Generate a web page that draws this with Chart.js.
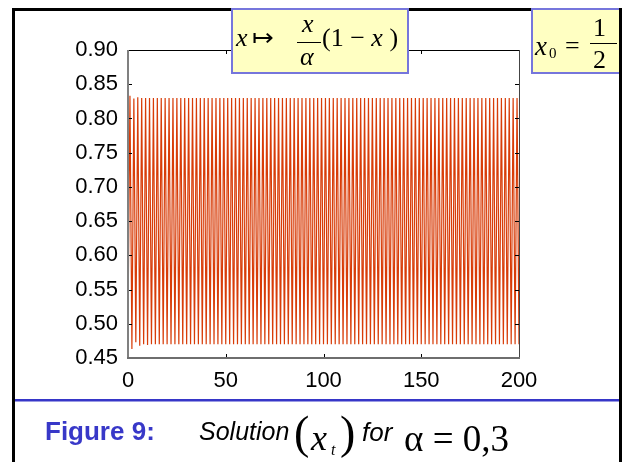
<!DOCTYPE html>
<html>
<head>
<meta charset="utf-8">
<script src="https://cdn.jsdelivr.net/npm/chart.js@4.4.1/dist/chart.umd.min.js"></script>
<style>
body{margin:0;background:#fff;}
#wrap{position:relative;width:626px;height:462px;overflow:hidden;background:#fff;}
#chart{position:absolute;left:0;top:0;}
.abs{position:absolute;white-space:nowrap;line-height:1;}
.serif{font-family:"Liberation Serif","Times New Roman",serif;}
.sans{font-family:"Liberation Sans",Arial,sans-serif;}
.frame{position:absolute;left:12px;top:8px;width:610px;height:520px;border:3px solid #000;box-sizing:border-box;}
.box{position:absolute;background:#ffffc2;border:2px solid #7676dc;box-sizing:border-box;}
</style>
</head>
<body>
<div id="wrap">
  <canvas id="chart" width="626" height="462"></canvas>
  <div class="frame"></div>
  <div class="abs" style="left:15px;top:399px;width:604px;height:2px;background:#3636c8;"></div>
  <div class="abs" style="left:15px;top:401px;width:604px;height:1px;background:#9a9ae4;"></div>

  <div class="box" style="left:231px;top:8px;width:178px;height:66px;"></div>
  <div class="abs serif" style="left:236px;top:25px;font-size:26px;font-style:italic;">x</div>
  <div class="abs serif" style="left:252px;top:25px;font-size:26px;">&#8614;</div>
  <div class="abs serif" style="left:302px;top:11px;font-size:26px;font-style:italic;">x</div>
  <div class="abs" style="left:297px;top:42px;width:24px;height:1px;background:#000;"></div>
  <div class="abs serif" style="left:300px;top:44px;font-size:26px;font-style:italic;">&alpha;</div>
  <div class="abs serif" style="left:322px;top:25px;font-size:26px;">(1 &minus; <i>x</i> )</div>

  <div class="box" style="left:531px;top:8px;width:90px;height:66px;"></div>
  <div class="abs serif" style="left:535px;top:33px;font-size:27px;font-style:italic;">x</div>
  <div class="abs serif" style="left:549px;top:46px;font-size:15px;">0</div>
  <div class="abs serif" style="left:565px;top:33px;font-size:26px;">=</div>
  <div class="abs serif" style="left:593px;top:15px;font-size:26px;">1</div>
  <div class="abs" style="left:590px;top:43px;width:27px;height:1px;background:#000;"></div>
  <div class="abs serif" style="left:593px;top:47px;font-size:26px;">2</div>
  <div class="abs" style="left:619px;top:8px;width:3px;height:454px;background:#000;"></div>

  <div class="abs sans" style="left:45px;top:418px;font-size:26px;font-weight:bold;color:#3838c8;">Figure 9:</div>
  <div class="abs sans" style="left:199px;top:419px;font-size:25px;font-style:italic;">Solution</div>
  <div class="abs serif" style="left:294px;top:410px;font-size:46px;">(</div>
  <div class="abs serif" style="left:311px;top:420px;font-size:36px;font-style:italic;">x</div>
  <div class="abs serif" style="left:331px;top:442px;font-size:16px;font-style:italic;">t</div>
  <div class="abs serif" style="left:340px;top:410px;font-size:46px;">)</div>
  <div class="abs sans" style="left:362px;top:419px;font-size:26px;font-style:italic;">for</div>
  <div class="abs serif" style="left:404px;top:420px;font-size:37px;">&alpha; = 0,3</div>
</div>
<script>
// x_t, t = 0..200
var xVals = [
    0.500, 0.833, 0.463, 0.829, 0.473, 0.831, 0.468, 0.830, 0.470, 0.830,
    0.469, 0.830, 0.470, 0.830, 0.470,
    0.830, 0.470, 0.830, 0.470, 0.830, 0.470, 0.830, 0.470, 0.830, 0.470, 0.830, 0.470, 0.830, 0.470, 0.830, 0.470, 0.830, 0.470, 0.830, 0.470,
    0.830, 0.470, 0.830, 0.470, 0.830, 0.470, 0.830, 0.470, 0.830, 0.470, 0.830, 0.470, 0.830, 0.470, 0.830, 0.470, 0.830, 0.470, 0.830, 0.470,
    0.830, 0.470, 0.830, 0.470, 0.830, 0.470, 0.830, 0.470, 0.830, 0.470, 0.830, 0.470, 0.830, 0.470, 0.830, 0.470, 0.830, 0.470, 0.830, 0.470,
    0.830, 0.470, 0.830, 0.470, 0.830, 0.470, 0.830, 0.470, 0.830, 0.470, 0.830, 0.470, 0.830, 0.470, 0.830, 0.470, 0.830, 0.470, 0.830, 0.470,
    0.830, 0.470, 0.830, 0.470, 0.830, 0.470, 0.830, 0.470, 0.830, 0.470, 0.830, 0.470, 0.830, 0.470, 0.830, 0.470, 0.830, 0.470, 0.830, 0.470,
    0.830, 0.470, 0.830, 0.470, 0.830, 0.470, 0.830, 0.470, 0.830, 0.470, 0.830, 0.470, 0.830, 0.470, 0.830, 0.470, 0.830, 0.470, 0.830, 0.470,
    0.830, 0.470, 0.830, 0.470, 0.830, 0.470, 0.830, 0.470, 0.830, 0.470, 0.830, 0.470, 0.830, 0.470, 0.830, 0.470, 0.830, 0.470, 0.830, 0.470,
    0.830, 0.470, 0.830, 0.470, 0.830, 0.470, 0.830, 0.470, 0.830, 0.470, 0.830, 0.470, 0.830, 0.470, 0.830, 0.470, 0.830, 0.470, 0.830, 0.470,
    0.830, 0.470, 0.830, 0.470, 0.830, 0.470, 0.830, 0.470, 0.830, 0.470, 0.830, 0.470, 0.830, 0.470, 0.830, 0.470, 0.830, 0.470, 0.830, 0.470,
    0.830, 0.470, 0.830, 0.470, 0.830, 0.470
];
var xTicks = [0, 50, 100, 150, 200];
var yTicks = [0.45, 0.50, 0.55, 0.60, 0.65, 0.70, 0.75, 0.80, 0.85, 0.90];

var points = xVals.map(function (v, t) { return {x: t, y: v}; });

// plot box + inward ticks on all four sides
var boxPlugin = {
    id: 'box',
    afterDraw: function (chart) {
        var c = chart.ctx, a = chart.chartArea;
        var sx = chart.scales.x, sy = chart.scales.y;
        c.save();
        c.lineWidth = 1;
        c.strokeStyle = '#000';
        xTicks.forEach(function (v) {
            var px = Math.round(sx.getPixelForValue(v)) + 0.5;
            c.beginPath(); c.moveTo(px, a.top); c.lineTo(px, a.top + 4); c.stroke();
            c.beginPath(); c.moveTo(px, a.bottom); c.lineTo(px, a.bottom - 4); c.stroke();
        });
        yTicks.forEach(function (v) {
            var py = Math.round(sy.getPixelForValue(v)) + 0.5;
            c.beginPath(); c.moveTo(a.left, py); c.lineTo(a.left + 4, py); c.stroke();
            c.beginPath(); c.moveTo(a.right, py); c.lineTo(a.right - 4, py); c.stroke();
        });
        c.strokeStyle = '#000';
        c.beginPath(); c.moveTo(a.left, a.top + 0.5); c.lineTo(a.right, a.top + 0.5); c.stroke();
        c.strokeStyle = '#444';
        c.beginPath(); c.moveTo(a.right + 0.5, a.top); c.lineTo(a.right + 0.5, a.bottom); c.stroke();
        c.lineWidth = 2;
        c.strokeStyle = '#808080';
        c.beginPath(); c.moveTo(a.left, a.top); c.lineTo(a.left, a.bottom + 1); c.stroke();
        c.strokeStyle = '#6e6e6e';
        c.beginPath(); c.moveTo(a.left - 1, a.bottom); c.lineTo(a.right + 1, a.bottom); c.stroke();
        c.restore();
    }
};

var tickFont = {family: '"Liberation Sans", Arial, sans-serif', size: 22};

new Chart(document.getElementById('chart'), {
    type: 'line',
    data: {
        datasets: [{
            data: points,
            borderColor: '#d83c08',
            borderWidth: 1.2,
            pointRadius: 0,
            tension: 0,
            fill: false
        }]
    },
    options: {
        responsive: false,
        animation: false,
        devicePixelRatio: 1,
        layout: {padding: {left: 58, right: 107, top: 50, bottom: 64}},
        plugins: {legend: {display: false}, tooltip: {enabled: false}},
        scales: {
            x: {
                type: 'linear',
                min: 0, max: 200,
                afterBuildTicks: function (s) { s.ticks = xTicks.map(function (v) { return {value: v}; }); },
                afterFit: function (s) { s.height = 40; },
                grid: {display: false, drawTicks: false},
                border: {display: false},
                ticks: {font: tickFont, color: '#000', padding: 10, maxRotation: 0}
            },
            y: {
                min: 0.45, max: 0.90,
                afterBuildTicks: function (s) { s.ticks = yTicks.map(function (v) { return {value: v}; }); },
                afterFit: function (s) { s.width = 70; },
                grid: {display: false, drawTicks: false},
                border: {display: false},
                ticks: {font: tickFont, color: '#000', padding: 10,
                    callback: function (v) { return v.toFixed(2); }}
            }
        }
    },
    plugins: [boxPlugin]
});
</script>
</body>
</html>
